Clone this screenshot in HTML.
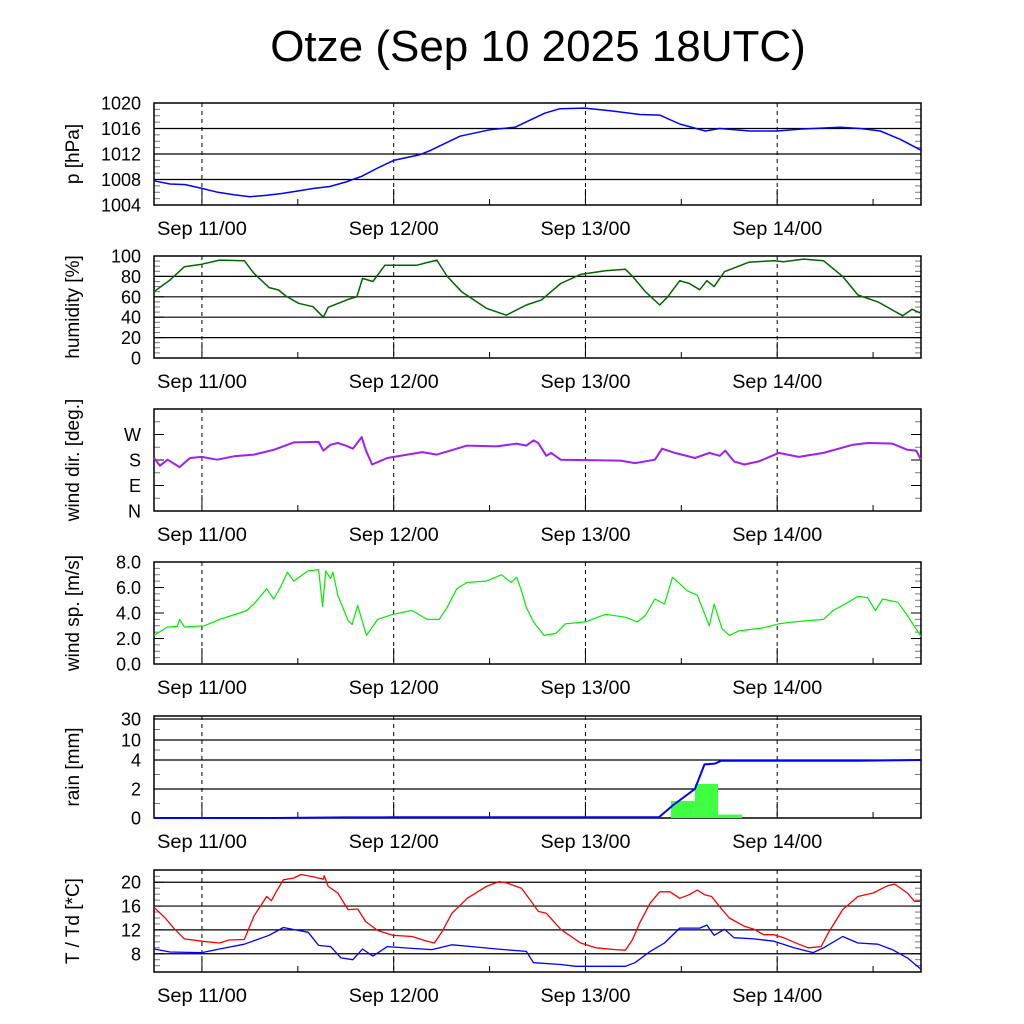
<!DOCTYPE html>
<html><head><meta charset="utf-8"><style>
html,body{margin:0;padding:0;background:#fff}
svg{display:block;font-family:"Liberation Sans",sans-serif}
</style></head><body>
<svg id="c" width="1024" height="1024" viewBox="0 0 1024 1024">
<text x="538" y="61" font-size="44" text-anchor="middle">Otze (Sep 10 2025 18UTC)</text>
</svg>
<script>
const dayLabels=["Sep 11/00","Sep 12/00","Sep 13/00","Sep 14/00"];
const dayHours=[6,30,54,78];
const presT=[0,2,3.9,6,8,10,12,14,16,18,20,22,24,26,28,30,33.3,34.5,38.3,42,45.2,48.9,50.8,53.9,57.1,60.8,63.3,65.8,69,70.8,74.6,78,80.9,85.9,88.4,90.9,93.4,96];
const presV=[1007.8,1007.3,1007.2,1006.6,1006.0,1005.6,1005.3,1005.5,1005.8,1006.2,1006.6,1006.9,1007.6,1008.5,1009.8,1011.0,1011.9,1012.5,1014.8,1015.8,1016.2,1018.4,1019.1,1019.2,1018.8,1018.2,1018.1,1016.7,1015.6,1016.0,1015.6,1015.6,1015.9,1016.2,1016.0,1015.6,1014.3,1012.6];
const humT=[0,2,3.8,6,8.2,11.3,12.5,14.4,15.6,16.5,18.1,19.9,21.2,21.8,24.3,25.4,26.1,27.4,28.9,30.2,32.9,35.4,36.7,38.5,41.6,44.1,46.6,48.5,50.9,53.4,56.5,59,59.9,61.5,63.3,64.3,65.8,67,68.3,69.2,70.1,71.4,74.5,77.6,78.8,81.3,83.8,86.2,88.1,90.6,93.7,94.9,96];
const humV=[65,76.5,89.5,92,96,95.4,83,69,66.7,60.8,53.6,50.3,40,49.7,57.5,60,78,75,91,91,91,96,80,65,48.7,42,52,57,73,82,85.6,87,80,65,52,60,75.8,73,67,75.8,70,84.6,94,95.4,94.4,97,95.4,80,61.8,55,41.5,47.7,43.8];
const dirT=[0,0.74,1.7,3.2,4.5,6,7.9,10,12.5,15,17.5,20.6,21.2,22.1,23,24,24.9,26,26.5,27.3,29.2,31.7,33.6,35.4,39.2,42.9,45.4,46.6,47.5,48.1,49.1,49.7,50.9,55.3,58.4,60.2,62.7,63.6,65.2,67.7,69.5,70.8,71.5,72.6,73.9,75.7,78.2,80.7,83.8,87.5,89.3,92.4,94.3,95.4,96];
const dirV=[187,160,181,155,187,191,181,193,199,216,242,244,213,234,240,231,220,261,216,164,187,199,208,199,231,228,238,231,249,240,195,205,181,179,178,169,181,220,205,187,205,195,213,175,164,175,205,191,205,234,240,238,216,213,181];
const spdT=[0,1.7,2.9,3.2,3.8,6.3,8.2,10.7,11.6,12.5,14.1,15,15.9,16.7,17.5,18.7,19.3,20.6,21.1,21.5,22.1,22.4,23,24.3,24.8,25.5,26.6,28,29.9,32.3,34.2,35.7,36.7,37.9,39.2,41.6,42.9,43.5,44.7,45.4,46,46.6,47.5,48.8,50.3,51.5,54,56.5,59,60.5,61.5,62.7,63.9,64.9,65.8,66.7,68,69.5,70.1,71.1,72,73.2,76.3,78.2,80.1,83.8,85,86.9,88.1,89.3,90.3,91.2,93.1,94.3,96];
const spdV=[2.24,2.9,2.94,3.5,2.9,3.0,3.5,4.0,4.2,4.7,5.9,5.1,6.1,7.2,6.5,7.05,7.3,7.4,4.5,7.3,6.7,7.2,5.4,3.4,3.1,4.6,2.24,3.5,3.9,4.2,3.5,3.5,4.45,5.9,6.4,6.5,6.85,7.0,6.4,6.8,5.75,4.45,3.3,2.24,2.4,3.15,3.3,3.9,3.67,3.3,3.8,5.1,4.7,6.8,6.3,5.75,5.4,3.0,4.7,2.76,2.24,2.6,2.84,3.15,3.3,3.5,4.2,4.84,5.3,5.2,4.2,5.1,4.84,3.8,2.16];
const rainT=[0,15,24,30,63.2,65,67.7,68.9,70.2,71,75,88,96];
const rainV=[0,0,0.04,0.05,0.05,0.9,2.0,3.7,3.75,3.95,3.95,3.95,4.0];
const barStart=[64.7,67.7,70.6];
const barEnd=[67.7,70.6,73.6];
const barV=[1.18,2.35,0.24];
const tT=[0,1.4,2.6,3.8,6,8.2,9.4,11.3,12.5,14.1,14.7,15.3,16.2,17.5,18.4,20,21.2,21.3,21.8,23,24.3,25.5,26.5,28,29.9,32.3,34.2,35.1,36.1,37.3,39.2,41.6,43.2,44.1,46,47.2,48.1,49.1,50.9,53.4,55.3,57.7,59,59.9,60.8,62.1,63.3,64.6,65.8,67,68,68.9,69.8,70.8,72,73.9,75.1,76.3,77.6,78.8,80.7,81.9,83.5,84.4,86.2,88.1,90,91.8,92.7,94.3,95.2,96];
const tV=[15.8,14,12.1,10.5,10.1,9.8,10.3,10.4,14.3,17.6,16.9,18.4,20.4,20.7,21.3,20.9,20.5,21.1,19.3,18.2,15.4,15.5,13.4,11.9,11.1,10.9,10.1,9.8,11.8,14.8,17.3,19.3,20.1,19.9,19,16.8,15.1,14.8,12.1,9.8,9,8.7,8.6,10.4,13.2,16.5,18.4,18.4,17.3,17.9,18.7,17.9,17.6,15.9,14,12.6,12.1,11.2,11.2,10.7,9.6,9,9.2,11.5,15.4,17.6,18.2,19.4,19.7,18.2,16.8,16.8];
const tdT=[0,2,6,8.2,11.3,14.4,16.2,18.1,19.3,20.6,22.1,23.4,24.9,26.1,27.4,29.2,32.3,34.8,37.3,39.8,42.9,46.6,47.5,50.9,52.8,55.3,59,60.2,62.1,63.9,65.8,68.3,69.2,70.1,71.4,72.6,75.1,77.6,80.1,82.5,83.8,86.2,88.1,90.6,92.4,94.3,96];
const tdV=[8.8,8.3,8.2,8.8,9.6,11.1,12.4,11.9,11.6,9.4,9.2,7.3,7,8.8,7.6,9.2,8.9,8.7,9.5,9.2,8.8,8.4,6.5,6.2,5.9,5.9,5.9,6.5,8.4,9.8,12.3,12.3,12.8,11.1,12.1,10.7,10.5,10.1,9,8.2,9,10.9,9.8,9.6,8.7,7.3,5.4];

const NS="http://www.w3.org/2000/svg";
const svg=document.getElementById('c');
const X0=154,X1=921;
const xs=h=>X0+(X1-X0)*h/96;
function el(tag,attrs,parent){const e=document.createElementNS(NS,tag);for(const k in attrs)e.setAttribute(k,attrs[k]);(parent||svg).appendChild(e);return e;}

function panel(name,top,ymap,ticks,labels,grid,title,minor){
  const g=el('g',{});
  
  
  const bot=top+102;
  grid.forEach(v=>{const l=el('line',{x1:X0,x2:X1,y1:ymap(v),y2:ymap(v),stroke:'#000','stroke-width':1.2},g);
    });
  dayHours.forEach(h=>{const l=el('line',{x1:xs(h),x2:xs(h),y1:top,y2:bot,stroke:'#000','stroke-dasharray':'4,4','stroke-width':1},g);
    });
  for(let h=6;h<96;h+=12){const big=((h-6)%24===0);el('line',{x1:xs(h),x2:xs(h),y1:bot,y2:bot-(big?16:6),stroke:'#000','stroke-width':1},g);}
  (minor||[]).forEach(v=>{el('line',{x1:X0,x2:X0+6,y1:ymap(v),y2:ymap(v),stroke:'#777'},g);el('line',{x1:X1,x2:X1-6,y1:ymap(v),y2:ymap(v),stroke:'#777'},g);});
  ticks.forEach((v,i)=>{const y=ymap(v);
    el('line',{x1:X0,x2:X0+10,y1:y,y2:y,stroke:'#000'},g);el('line',{x1:X1,x2:X1-10,y1:y,y2:y,stroke:'#000'},g);
    const t=el('text',{x:X0-13,y:y+6.5,'font-size':18,'text-anchor':'end'},g);t.textContent=labels[i];
    });
  dayHours.forEach((h,i)=>{const t=el('text',{x:xs(h)-45,y:bot+30,'font-size':19,textLength:90,lengthAdjust:'spacingAndGlyphs'},g);t.textContent=dayLabels[i];
    });
  const tt=el('text',{x:0,y:0,'font-size':19,'text-anchor':'middle',transform:`translate(79,${top+51}) rotate(-90)`},g);tt.textContent=title;
  
  el('rect',{x:X0,y:top,width:X1-X0,height:102,fill:'none',stroke:'#000','stroke-width':1.5},g);
  return g;
}
function line(g,T,V,ymap,color,name,w){
  const d=T.map((h,i)=>(i?'L':'M')+xs(h).toFixed(1)+','+ymap(V[i]).toFixed(1)).join('');
  const p=el('path',{d:d,fill:'none',stroke:color,'stroke-width':w||1.5,'stroke-linejoin':'round'},g);
  
}
function lin(top,a,b){return v=>top+102-(v-a)/(b-a)*102;}

let ym=lin(103,1004,1020);
let g=panel('pressure',103,ym,[1004,1008,1012,1016,1020],['1004','1008','1012','1016','1020'],[1008,1012,1016],'p [hPa]',[1005,1006,1007,1009,1010,1011,1013,1014,1015,1017,1018,1019]);
line(g,presT,presV,ym,'#0000ff','pressure-line');
ym=lin(256,0,100);
g=panel('humidity',256,ym,[0,20,40,60,80,100],['0','20','40','60','80','100'],[20,40,60,80],'humidity [%]',[5,10,15,25,30,35,45,50,55,65,70,75,85,90,95]);
line(g,humT,humV,ym,'#006400','humidity-line');
ym=lin(409,0,360);
g=panel('wind-dir',409,ym,[0,90,180,270],['N','E','S','W'],[],'wind dir. [deg.]',[45,135,225,315]);
line(g,dirT,dirV,ym,'#a020f0','wind-direction-line',2);
ym=lin(562,0,8);
g=panel('wind-speed',562,ym,[0,2,4,6,8],['0.0','2.0','4.0','6.0','8.0'],[],'wind sp. [m/s]',[0.5,1,1.5,2.5,3,3.5,4.5,5,5.5,6.5,7,7.5]);
line(g,spdT,spdV,ym,'#00ee00','wind-speed-line',1.2);
const rv=[0,2,4,10,30],ry=[818,789,760,740,719];
ym=v=>{for(let i=1;i<rv.length;i++){if(v<=rv[i]){return ry[i-1]+(v-rv[i-1])/(rv[i]-rv[i-1])*(ry[i]-ry[i-1]);}}return ry[4];};
g=panel('rain',716,ym,[0,2,4,10,30],['0','2','4','10','30'],[2,4,10,30],'rain [mm]',[1,3,7,20]);
barV.forEach((v,i)=>{const r=el('rect',{x:xs(barStart[i]),y:ym(v),width:xs(barEnd[i])-xs(barStart[i]),height:818-ym(v),fill:'#40ff40'},g);
  });
line(g,rainT,rainV,ym,'#0000ff','cumulative-rain-line',2);
ym=lin(870,4.94,22.05);
g=panel('temperature',870,ym,[8,12,16,20],['8','12','16','20'],[8,12,16,20],'T / Td [*C]',[6,7,9,10,11,13,14,15,17,18,19,21]);
line(g,tT,tV,ym,'#ff0000','temperature-line',1.3);
line(g,tdT,tdV,ym,'#0000ff','dewpoint-line',1.3);
</script>
</body></html>
